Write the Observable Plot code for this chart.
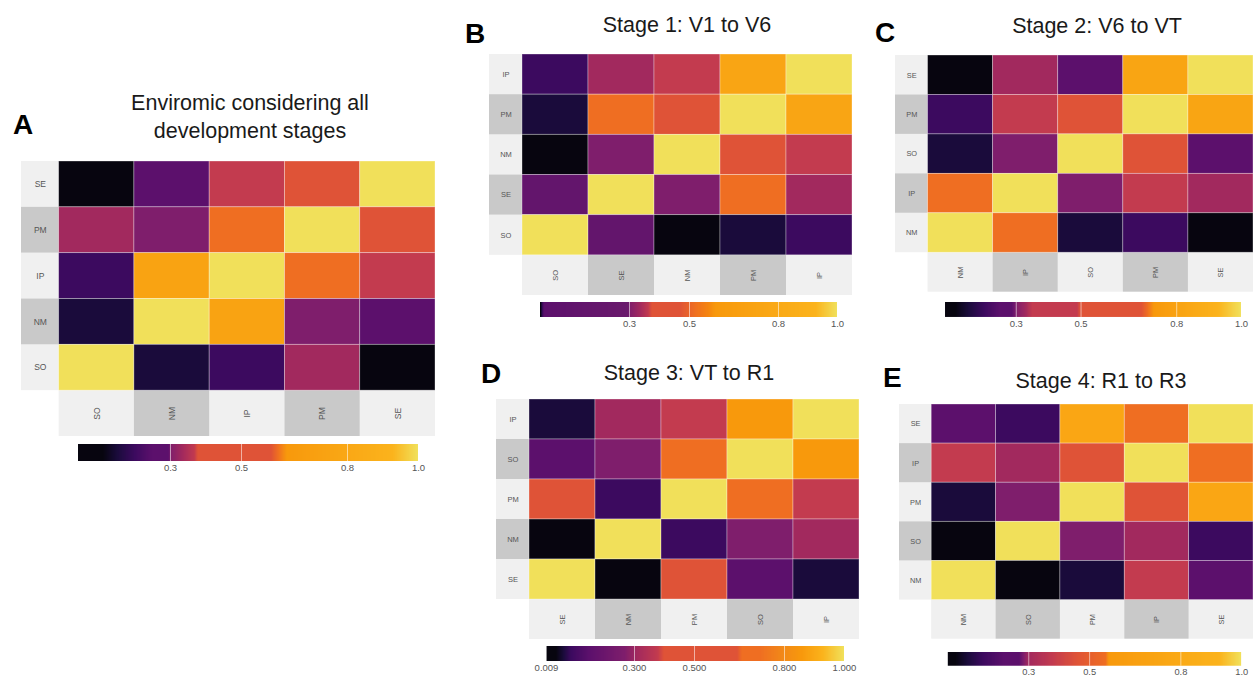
<!DOCTYPE html>
<html><head><meta charset="utf-8">
<script src="https://cdn.jsdelivr.net/npm/d3@7"></script>
<script src="https://cdn.jsdelivr.net/npm/@observablehq/plot@0.6"></script>
<style>
html,body{margin:0;padding:0;background:#fff;}
body{width:1253px;height:677px;overflow:hidden;position:relative;font-family:"Liberation Sans",Arial,sans-serif;}
.title{position:absolute;font-size:21.5px;color:#1a1a1a;text-align:center;white-space:nowrap;line-height:28px;width:320px;}
.letter{position:absolute;font-size:28px;font-weight:bold;color:#000;line-height:28px;}
.box{position:absolute;}
.leg svg .tick line{stroke:#fff;stroke-opacity:0.55;}
.leg svg .tick text{fill:#555;}
</style></head><body>
<script>
// ---------- DATA ----------
// Panel A: Enviromic considering all development stages
const colsA = ["SO","NM","IP","PM","SE"];
const rowsA = ["SE","PM","IP","NM","SO"]; // top to bottom
const valuesA = [
  [0.07, 0.27, 0.37, 0.48, 1.00],
  [0.335,0.30, 0.605,1.00, 0.48],
  [0.20, 0.75, 1.00, 0.605,0.37],
  [0.15, 1.00, 0.75, 0.30, 0.27],
  [1.00, 0.15, 0.20, 0.335,0.07]
];
const ticksA = [0.3, 0.5, 0.8, 1.0];
const minA = 0.042;

// Panel B: Stage 1: V1 to V6
const colsB = ["SO","SE","NM","PM","IP"];
const rowsB = ["IP","PM","NM","SE","SO"];
const valuesB = [
  [0.006, 0.335, 0.365, 0.75, 1.00],
  [0.003, 0.52,  0.42,  1.00, 0.75],
  [0.000, 0.30,  1.00,  0.42, 0.365],
  [0.15,  1.00,  0.30,  0.52, 0.335],
  [1.00,  0.15,  0.000, 0.003,0.006]
];
const ticksB = [0.3, 0.5, 0.8, 1.0];
const minB = 0.0;

// Panel C: Stage 2: V6 to VT
const colsC = ["NM","IP","SO","PM","SE"];
const rowsC = ["SE","PM","SO","IP","NM"];
const valuesC = [
  [0.09, 0.33, 0.26, 0.82, 1.00],
  [0.20, 0.42, 0.60, 1.00, 0.82],
  [0.15, 0.30, 1.00, 0.60, 0.26],
  [0.71, 1.00, 0.30, 0.42, 0.33],
  [1.00, 0.71, 0.15, 0.20, 0.09]
];
const ticksC = [0.3, 0.5, 0.8, 1.0];
const minC = 0.08;

// Panel D: Stage 3: VT to R1
const colsD = ["SE","NM","PM","SO","IP"];
const rowsD = ["IP","SO","PM","NM","SE"];
const valuesD = [
  [0.065, 0.31, 0.38, 0.86, 1.00],
  [0.15,  0.27, 0.72, 1.00, 0.86],
  [0.52,  0.09, 1.00, 0.72, 0.38],
  [0.009, 1.00, 0.09, 0.27, 0.31],
  [1.00,  0.009,0.52, 0.15, 0.065]
];
const ticksD = [0.009, 0.3, 0.5, 0.8, 1.0];
const minD = 0.009;

// Panel E: Stage 4: R1 to R3
const colsE = ["NM","SO","PM","IP","SE"];
const rowsE = ["SE","IP","PM","SO","NM"];
const valuesE = [
  [0.22, 0.15, 0.75, 0.555,1.00],
  [0.38, 0.30, 0.46, 1.00, 0.555],
  [0.10, 0.285,1.00, 0.46, 0.75],
  [0.04, 1.00, 0.285,0.30, 0.15],
  [1.00, 0.04, 0.10, 0.38, 0.22]
];
const ticksE = [0.3, 0.5, 0.8, 1.0];
const minE = 0.037;

// ---------- COLOUR SCALES (value -> colour stops per panel) ----------
const K="#07050f", N="#1a0b3b", DP="#3c0a5f", P="#5c106c", V="#7f1e6c", M="#a2295e",
      C="#c33b4f", R="#df5337", O="#ef6e22", AM="#f8990c", AL="#fbb31c", Y="#f1e05a";
const stopsA = [[0.042,K],[0.11,K],[0.15,N],[0.20,DP],[0.25,P],[0.297,P],[0.30,V],[0.335,M],[0.37,C],[0.378,R],[0.585,R],[0.605,O],[0.63,AM],[0.93,AL],[1.0,Y]];
const stopsB = [[0.0,K],[0.003,N],[0.006,DP],[0.012,P],[0.297,"#6a1a6c"],[0.30,V],[0.335,M],[0.365,C],[0.375,R],[0.47,R],[0.52,O],[0.567,"#f5850f"],[0.59,AM],[0.93,AL],[1.0,Y]];
const stopsC = [[0.08,K],[0.11,K],[0.15,N],[0.20,DP],[0.25,P],[0.286,P],[0.30,V],[0.33,M],[0.35,C],[0.49,C],[0.50,R],[0.69,R],[0.71,O],[0.73,AM],[0.93,AL],[1.0,Y]];
const stopsD = [[0.009,K],[0.04,K],[0.065,N],[0.09,DP],[0.15,P],[0.27,V],[0.31,M],[0.38,C],[0.40,R],[0.645,R],[0.66,O],[0.72,O],[0.80,"#f28a18"],[0.86,AM],[0.93,AL],[1.0,Y]];
const stopsE = [[0.037,K],[0.06,K],[0.10,N],[0.15,DP],[0.22,P],[0.27,P],[0.285,V],[0.30,M],[0.38,C],[0.46,R],[0.555,O],[0.565,AM],[0.93,AL],[1.0,Y]];

// ---------- DRAWING ----------
function makeInterp(stops, lo, hi) {
  const s = d3.scaleLinear().domain(stops.map(d => d[0])).range(stops.map(d => d[1]))
    .interpolate(d3.interpolateRgb).clamp(true);
  return t => s(lo + t * (hi - lo));
}

function addDiv(cls, text, left, top) {
  const d = document.createElement("div");
  d.className = cls;
  d.innerHTML = text;
  d.style.left = left + "px";
  d.style.top = top + "px";
  document.body.appendChild(d);
  return d;
}

function panel(cfg) {
  const {cols, rows, values, lo, stops, left, top, w, h, fs, ticks, fmt, leg} = cfg;
  const n = rows.length;
  const cells = [];
  rows.forEach((r, i) => cols.forEach((c, j) => cells.push({row: r, col: c, v: values[i][j], xi: j, yi: n - 1 - i})));
  const rowLab = rows.map((r, i) => ({label: r, yi: n - 1 - i, shade: i % 2}));
  const colLab = cols.map((c, j) => ({label: c, xi: j, shade: j % 2}));
  const colorOpts = {type: "linear", domain: [lo, 1], interpolate: makeInterp(stops, lo, 1)};
  const light = "#f0f0f0", grey = "#c9c9c9";
  const svg = Plot.plot({
    width: w, height: h, margin: 0,
    style: {fontFamily: "Liberation Sans, Arial, sans-serif", background: "transparent", overflow: "visible"},
    x: {domain: [-0.5, cols.length], axis: null},
    y: {domain: [-1, n], axis: null},
    color: colorOpts,
    marks: [
      Plot.rect(rowLab.filter(d => !d.shade), {x1: -0.5, x2: 0, y1: "yi", y2: d => d.yi + 1, fill: light}),
      Plot.rect(rowLab.filter(d => d.shade), {x1: -0.5, x2: 0, y1: "yi", y2: d => d.yi + 1, fill: grey}),
      Plot.rect(colLab.filter(d => !d.shade), {x1: "xi", x2: d => d.xi + 1, y1: -1, y2: 0, fill: light}),
      Plot.rect(colLab.filter(d => d.shade), {x1: "xi", x2: d => d.xi + 1, y1: -1, y2: 0, fill: grey}),
      Plot.rect(cells, {x1: "xi", x2: d => d.xi + 1, y1: "yi", y2: d => d.yi + 1, fill: "v",
        stroke: "#ffffff", strokeOpacity: 0.4, strokeWidth: 0.8}),
      Plot.text(rowLab, {x: -0.25, y: d => d.yi + 0.5, text: "label", fontSize: fs, fill: "#555"}),
      Plot.text(colLab, {x: d => d.xi + 0.5, y: -0.5, text: "label", rotate: -90, fontSize: fs, fill: "#555"})
    ]
  });
  const wrap = document.createElement("div");
  wrap.className = "box";
  wrap.style.left = left + "px";
  wrap.style.top = top + "px";
  wrap.appendChild(svg);
  document.body.appendChild(wrap);

  const legend = Plot.legend({
    color: colorOpts,
    label: null,
    width: leg.w + 24, marginLeft: 12, marginRight: 12,
    height: leg.h + 16, marginTop: 0, marginBottom: 16,
    tickSize: 0, ticks: ticks, tickFormat: fmt,
    style: {fontFamily: "Liberation Sans, Arial, sans-serif", fontSize: "9.5px", background: "transparent", color: "#555"}
  });
  const lw = document.createElement("div");
  lw.className = "box leg";
  lw.style.left = (leg.x - 12) + "px";
  lw.style.top = leg.y + "px";
  lw.appendChild(legend);
  document.body.appendChild(lw);
}

panel({cols: colsA, rows: rowsA, values: valuesA, lo: minA, stops: stopsA, left: 21, top: 161, w: 414, h: 275, fs: 8.5,
  ticks: ticksA, fmt: ".1f", leg: {x: 78, y: 444, w: 340, h: 17}});
panel({cols: colsB, rows: rowsB, values: valuesB, lo: minB, stops: stopsB, left: 489, top: 54, w: 363, h: 241, fs: 7.5,
  ticks: ticksB, fmt: ".1f", leg: {x: 540, y: 302, w: 297, h: 15}});
panel({cols: colsC, rows: rowsC, values: valuesC, lo: minC, stops: stopsC, left: 895, top: 55, w: 363, h: 240, fs: 7.5,
  ticks: ticksC, fmt: ".1f", leg: {x: 945, y: 302, w: 297, h: 15}});
panel({cols: colsD, rows: rowsD, values: valuesD, lo: minD, stops: stopsD, left: 496, top: 399, w: 363, h: 240, fs: 7.5,
  ticks: ticksD, fmt: ".3f", leg: {x: 546, y: 646, w: 298, h: 15}});
panel({cols: colsE, rows: rowsE, values: valuesE, lo: minE, stops: stopsE, left: 899, top: 404, w: 362, h: 240, fs: 7.5,
  ticks: ticksE, fmt: ".1f", leg: {x: 948, y: 652, w: 299, h: 14}});

// titles and panel letters
addDiv("title", "Enviromic considering all<br>development stages", 250 - 160, 89);
addDiv("title", "Stage 1: V1 to V6", 687 - 160, 11);
addDiv("title", "Stage 2: V6 to VT", 1097 - 160, 12);
addDiv("title", "Stage 3: VT to R1", 689 - 160, 359);
addDiv("title", "Stage 4: R1 to R3", 1101 - 160, 367);
addDiv("letter", "A", 13, 111);
addDiv("letter", "B", 465, 20);
addDiv("letter", "C", 875, 19);
addDiv("letter", "D", 481, 360);
addDiv("letter", "E", 883, 364);
</script>
</body></html>
